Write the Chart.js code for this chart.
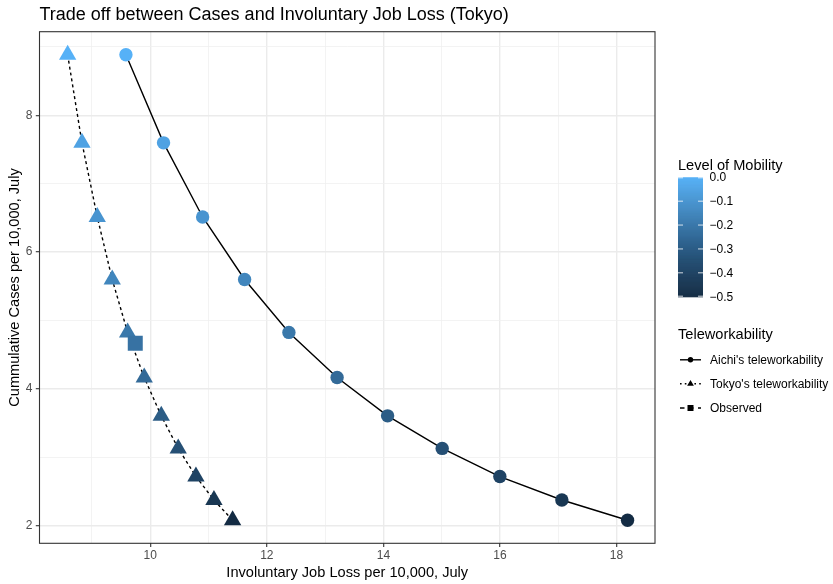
<!DOCTYPE html>
<html>
<head>
<meta charset="utf-8">
<script src="https://cdn.jsdelivr.net/npm/chart.js@4/dist/chart.umd.min.js"></script>
<style>
  html, body { margin: 0; padding: 0; background: #ffffff; }
  #wrap { width: 833px; height: 584px; position: relative; }
</style>
</head>
<body>
<div id="wrap"><canvas id="chart" width="833" height="584"></canvas></div>
<script>
// Mobility scenarios (shared by both teleworkability curves)
const mobilityLevels = [0, -0.05, -0.1, -0.15, -0.2, -0.25, -0.3, -0.35, -0.4, -0.45, -0.5];
// Cumulative cases per 10,000 in July for each mobility level
const cumulativeCases = [8.885, 7.597, 6.513, 5.600, 4.826, 4.166, 3.606, 3.130, 2.719, 2.376, 2.080];
// Involuntary job loss per 10,000 in July
const aichiJobLoss = [9.583, 10.228, 10.899, 11.619, 12.379, 13.206, 14.072, 15.009, 15.998, 17.062, 18.189];
const tokyoJobLoss = [8.583, 8.829, 9.091, 9.348, 9.612, 9.897, 10.189, 10.480, 10.784, 11.093, 11.413];
// Observed outcome
const observedJobLoss = [9.743];
const observedCases = [4.667];
const observedMobility = [-0.22];

const colorbarTicks = [0, -0.1, -0.2, -0.3, -0.4, -0.5];
const colorbarLabels = ['0.0', '\u22120.1', '\u22120.2', '\u22120.3', '\u22120.4', '\u22120.5'];
const xTickLabels = [10, 12, 14, 16, 18];
const yTickLabels = [2, 4, 6, 8];
const seriesNames = ["Aichi's teleworkability", "Tokyo's teleworkability", 'Observed'];

const mobilityMin = -0.5, mobilityMax = 0;
const FONT = '"Liberation Sans", Arial, Helvetica, sans-serif';

// ---- continuous colour scale (Lab interpolation, dark navy -> light blue)
function toLin(c) { c /= 255; return c <= 0.04045 ? c / 12.92 : Math.pow((c + 0.055) / 1.055, 2.4); }
function fromLin(c) { const v = c <= 0.0031308 ? 12.92 * c : 1.055 * Math.pow(c, 1 / 2.4) - 0.055; return Math.max(0, Math.min(255, Math.round(v * 255))); }
const WX = 0.95047, WY = 1, WZ = 1.08883;
function fLab(t) { return t > 0.008856 ? Math.cbrt(t) : 7.787 * t + 16 / 116; }
function fInv(t) { const t3 = t * t * t; return t3 > 0.008856 ? t3 : (t - 16 / 116) / 7.787; }
function hexToLab(hex) {
  const r = toLin(parseInt(hex.slice(1, 3), 16)), g = toLin(parseInt(hex.slice(3, 5), 16)), b = toLin(parseInt(hex.slice(5, 7), 16));
  const X = 0.4124564 * r + 0.3575761 * g + 0.1804375 * b;
  const Y = 0.2126729 * r + 0.7151522 * g + 0.0721750 * b;
  const Z = 0.0193339 * r + 0.1191920 * g + 0.9503041 * b;
  const fx = fLab(X / WX), fy = fLab(Y / WY), fz = fLab(Z / WZ);
  return [116 * fy - 16, 500 * (fx - fy), 200 * (fy - fz)];
}
function labToRgb(L, a, b) {
  const fy = (L + 16) / 116, fx = fy + a / 500, fz = fy - b / 200;
  const X = WX * fInv(fx), Y = WY * fInv(fy), Z = WZ * fInv(fz);
  const r = 3.2404542 * X - 1.5371385 * Y - 0.4985314 * Z;
  const g = -0.9692660 * X + 1.8760108 * Y + 0.0415560 * Z;
  const bb = 0.0556434 * X - 0.2040259 * Y + 1.0572252 * Z;
  return 'rgb(' + fromLin(r) + ',' + fromLin(g) + ',' + fromLin(bb) + ')';
}
const LOW = hexToLab('#132B43'), HIGH = hexToLab('#56B1F7');
function mobilityColor(m) {
  const t = Math.max(0, Math.min(1, (m - mobilityMin) / (mobilityMax - mobilityMin)));
  return labToRgb(LOW[0] + (HIGH[0] - LOW[0]) * t, LOW[1] + (HIGH[1] - LOW[1]) * t, LOW[2] + (HIGH[2] - LOW[2]) * t);
}

const toPoints = (xs, ys) => xs.map((x, i) => ({ x: x, y: ys[i] }));

// ---- panel border, titles and the two legends
const decorations = {
  id: 'decorations',
  afterDraw(chart) {
    const ctx = chart.ctx, a = chart.chartArea;
    ctx.save();
    // panel border
    ctx.strokeStyle = '#333333';
    ctx.lineWidth = 1.1;
    ctx.strokeRect(a.left, a.top, a.right - a.left, a.bottom - a.top);

    // plot title, aligned with the panel
    ctx.fillStyle = '#000000';
    ctx.textAlign = 'left';
    ctx.textBaseline = 'alphabetic';
    ctx.font = '18px ' + FONT;
    ctx.fillText('Trade off between Cases and Involuntary Job Loss (Tokyo)', a.left, 20.2);

    // axis titles
    ctx.font = '14.6px ' + FONT;
    ctx.textAlign = 'center';
    ctx.fillText('Involuntary Job Loss per 10,000, July', (a.left + a.right) / 2, 577);
    ctx.save();
    ctx.translate(18.8, (a.top + a.bottom) / 2);
    ctx.rotate(-Math.PI / 2);
    ctx.fillText('Cummulative Cases per 10,000, July', 0, 0);
    ctx.restore();

    // colour bar legend
    const lx = 678;
    ctx.textAlign = 'left';
    ctx.font = '14.6px ' + FONT;
    ctx.fillText('Level of Mobility', lx, 169.5);
    const barTop = 177.3, barBot = 296.7, barW = 25;
    const steps = 240;
    for (let i = 0; i < steps; i++) {
      const m = mobilityMax - (i + 0.5) / steps * (mobilityMax - mobilityMin);
      ctx.fillStyle = mobilityColor(m);
      const y0 = barTop + i * (barBot - barTop) / steps;
      ctx.fillRect(lx, y0, barW, (barBot - barTop) / steps + 0.6);
    }
    const tickY = m => barTop + (mobilityMax - m) / (mobilityMax - mobilityMin) * (barBot - barTop);
    ctx.strokeStyle = 'rgba(255,255,255,0.8)';
    ctx.lineWidth = 1;
    ctx.font = '12px ' + FONT;
    ctx.textBaseline = 'middle';
    colorbarTicks.forEach((m, i) => {
      const y = Math.min(barBot - 0.5, Math.max(barTop + 0.5, tickY(m)));
      ctx.beginPath();
      ctx.moveTo(lx, y); ctx.lineTo(lx + 5, y);
      ctx.moveTo(lx + barW - 5, y); ctx.lineTo(lx + barW, y);
      ctx.stroke();
      ctx.fillStyle = '#000000';
      ctx.fillText(colorbarLabels[i], 709.5, tickY(m) + 0.5);
    });

    // line type / shape legend
    ctx.textBaseline = 'alphabetic';
    ctx.font = '14.6px ' + FONT;
    ctx.fillText('Teleworkability', lx, 339.3);
    ctx.font = '12px ' + FONT;
    ctx.textBaseline = 'middle';
    const keyY = [359.8, 383.8, 408.0];
    const dashes = [[], [1.6, 3.2], [4.5, 4.5]];
    ctx.fillStyle = '#000000';
    keyY.forEach((y, i) => {
      ctx.strokeStyle = '#000000';
      ctx.lineWidth = 1.4;
      ctx.setLineDash(dashes[i]);
      ctx.beginPath();
      ctx.moveTo(680, y); ctx.lineTo(701, y);
      ctx.stroke();
      ctx.setLineDash([]);
      ctx.beginPath();
      if (i === 0) {
        ctx.arc(690.5, y, 2.7, 0, Math.PI * 2);
      } else if (i === 1) {
        const r = 3.9;
        ctx.moveTo(690.5, y - r);
        ctx.lineTo(690.5 + r * 0.866, y + r / 2);
        ctx.lineTo(690.5 - r * 0.866, y + r / 2);
        ctx.closePath();
      } else {
        ctx.rect(687.5, y - 3, 6, 6);
      }
      ctx.fill();
      ctx.fillText(seriesNames[i], 710, y + 0.5);
    });
    ctx.restore();
  }
};

const isMajorX = v => xTickLabels.includes(v);
const isMajorY = v => yTickLabels.includes(v);

new Chart(document.getElementById('chart'), {
  type: 'scatter',
  data: {
    datasets: [
      {
        label: seriesNames[2],
        data: toPoints(observedJobLoss, observedCases),
        showLine: false,
        pointStyle: 'rect',
        pointRadius: 10.6,
        pointHoverRadius: 10.6,
        pointBorderWidth: 0,
        pointBackgroundColor: observedMobility.map(mobilityColor),
        pointBorderColor: 'rgba(0,0,0,0)'
      },
      {
        label: seriesNames[1],
        data: toPoints(tokyoJobLoss, cumulativeCases),
        showLine: true,
        borderColor: '#000000',
        borderWidth: 1.4,
        borderDash: [3, 3],
        pointStyle: 'triangle',
        pointRadius: 10,
        pointHoverRadius: 10,
        pointBorderWidth: 0,
        pointBackgroundColor: mobilityLevels.map(mobilityColor),
        pointBorderColor: 'rgba(0,0,0,0)'
      },
      {
        label: seriesNames[0],
        data: toPoints(aichiJobLoss, cumulativeCases),
        showLine: true,
        borderColor: '#000000',
        borderWidth: 1.4,
        pointStyle: 'circle',
        pointRadius: 6.7,
        pointHoverRadius: 6.7,
        pointBorderWidth: 0,
        pointBackgroundColor: mobilityLevels.map(mobilityColor),
        pointBorderColor: 'rgba(0,0,0,0)'
      }
    ]
  },
  options: {
    responsive: false,
    animation: false,
    devicePixelRatio: 1,
    events: [],
    layout: { padding: { left: 0, top: 31.7, right: 178, bottom: 0 } },
    plugins: { legend: { display: false }, title: { display: false }, tooltip: { enabled: false } },
    scales: {
      x: {
        type: 'linear',
        min: 8.1,
        max: 18.66,
        border: { display: false },
        afterFit(scale) { scale.height = 40.7; },
        ticks: {
          stepSize: 1,
          includeBounds: false,
          autoSkip: false,
          maxRotation: 0,
          padding: 1.5,
          color: '#4D4D4D',
          font: { family: FONT, size: 12 },
          callback: v => (isMajorX(v) ? String(v) : '')
        },
        grid: {
          drawTicks: true,
          tickLength: 3.7,
          tickWidth: 1.1,
          tickColor: c => (c.tick && isMajorX(c.tick.value) ? '#333333' : 'rgba(0,0,0,0)'),
          color: c => (c.tick && isMajorX(c.tick.value) ? '#EBEBEB' : '#F0F0F0'),
          lineWidth: c => (c.tick && isMajorX(c.tick.value) ? 1.4 : 0.8)
        }
      },
      y: {
        type: 'linear',
        min: 1.743,
        max: 9.222,
        border: { display: false },
        afterFit(scale) { scale.width = 39.5; },
        ticks: {
          stepSize: 1,
          includeBounds: false,
          autoSkip: false,
          padding: 3.5,
          color: '#4D4D4D',
          font: { family: FONT, size: 12 },
          callback: v => (isMajorY(v) ? String(v) : '')
        },
        grid: {
          drawTicks: true,
          tickLength: 3.7,
          tickWidth: 1.1,
          tickColor: c => (c.tick && isMajorY(c.tick.value) ? '#333333' : 'rgba(0,0,0,0)'),
          color: c => (c.tick && isMajorY(c.tick.value) ? '#EBEBEB' : '#F0F0F0'),
          lineWidth: c => (c.tick && isMajorY(c.tick.value) ? 1.4 : 0.8)
        }
      }
    }
  },
  plugins: [decorations]
});
</script>
</body>
</html>
